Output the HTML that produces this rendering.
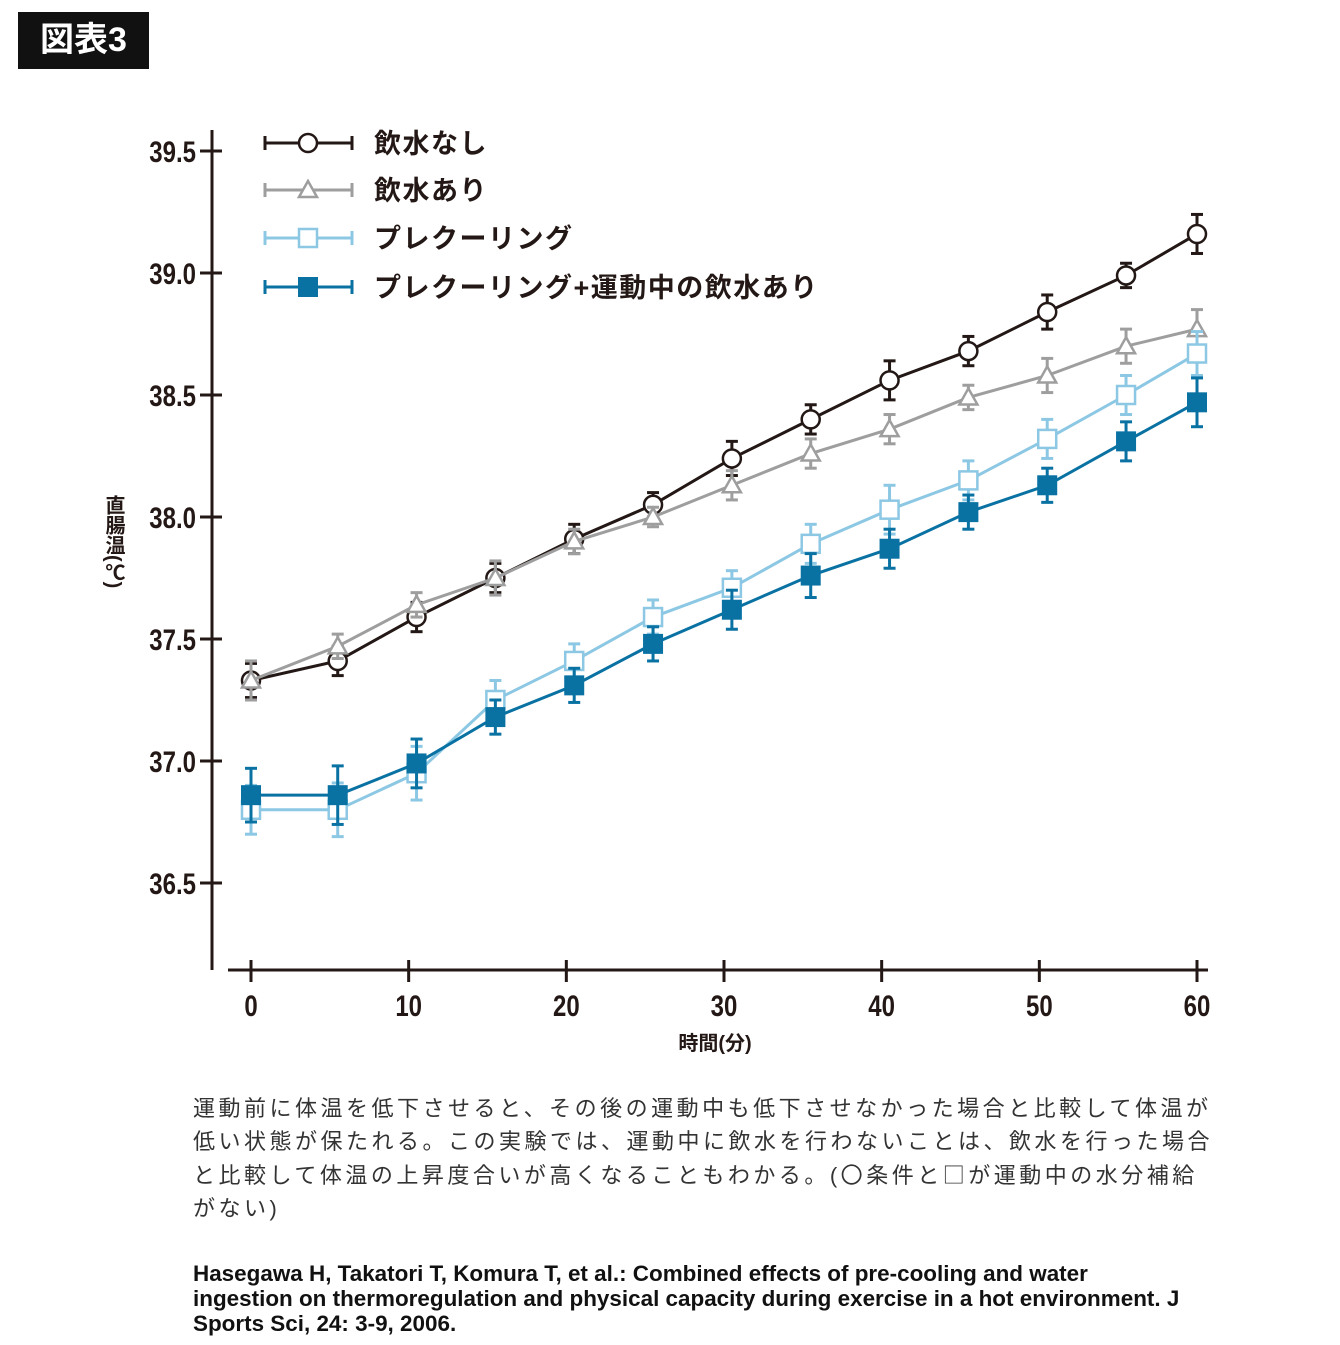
<!DOCTYPE html>
<html><head><meta charset="utf-8">
<style>
body{margin:0;background:#fff;width:1340px;height:1345px;overflow:hidden;font-family:"Liberation Sans","Noto Sans CJK JP",sans-serif;position:relative}
#title{position:absolute;left:18px;top:12px;width:131px;height:57px;background:#111;color:#fff;font-size:34px;font-weight:bold;line-height:57px;text-align:center}
#caption{position:absolute;left:193px;top:1092px;width:1060px;font-size:22px;line-height:33px;color:#333;letter-spacing:3.5px;white-space:nowrap}
#caption .g{font-family:"Noto Sans CJK JP",sans-serif;font-size:22px}
#ref{position:absolute;left:193px;top:1261px;width:1200px;font-size:22px;line-height:25px;color:#111;font-weight:bold;white-space:nowrap;transform:scaleX(1.02);transform-origin:0 0}
svg{position:absolute;left:0;top:0}
</style></head><body>
<div id="title">図表3</div>
<svg id="chart" width="1340" height="1345"></svg>
<div id="caption">運動前に体温を低下させると、その後の運動中も低下させなかった場合と比較して体温が<br>低い状態が保たれる。この実験では、運動中に飲水を行わないことは、飲水を行った場合<br>と比較して体温の上昇度合いが高くなることもわかる。(<span class="g">〇</span>条件と<span class="g">□</span>が運動中の水分補給<br>がない)</div>
<div id="ref">Hasegawa H, Takatori T, Komura T, et al.: Combined effects of pre-cooling and water<br>ingestion on thermoregulation and physical capacity during exercise in a hot environment. J<br>Sports Sci, 24: 3-9, 2006.</div>
<script>
const times=[0,5.5,10.5,15.5,20.5,25.5,30.5,35.5,40.5,45.5,50.5,55.5,60];
const noWater=[37.33,37.41,37.59,37.75,37.91,38.05,38.24,38.40,38.56,38.68,38.84,38.99,39.16];
const noWaterErr=[0.07,0.06,0.06,0.06,0.06,0.05,0.07,0.06,0.08,0.06,0.07,0.05,0.08];
const water=[37.33,37.47,37.64,37.75,37.90,38.00,38.13,38.26,38.36,38.49,38.58,38.70,38.77];
const waterErr=[0.08,0.05,0.05,0.07,0.05,0.04,0.06,0.06,0.06,0.05,0.07,0.07,0.08];
const precool=[36.80,36.80,36.95,37.25,37.41,37.59,37.71,37.89,38.03,38.15,38.32,38.50,38.67];
const precoolErr=[0.10,0.11,0.11,0.08,0.07,0.07,0.07,0.08,0.10,0.08,0.08,0.08,0.09];
const precoolWater=[36.86,36.86,36.99,37.18,37.31,37.48,37.62,37.76,37.87,38.02,38.13,38.31,38.47];
const precoolWaterErr=[0.11,0.12,0.10,0.07,0.07,0.07,0.08,0.09,0.08,0.07,0.07,0.08,0.10];
const yTicks=[36.5,37.0,37.5,38.0,38.5,39.0,39.5];
const xTicks=[0,10,20,30,40,50,60];
const legendLabels=["飲水なし","飲水あり","プレクーリング","プレクーリング+運動中の飲水あり"];

const NS="http://www.w3.org/2000/svg";
const svg=document.getElementById('chart');
const X=t=>251+t*(1197-251)/60;
const Y=v=>761-(v-37)*244;
function mk(tag,attrs,parent){const e=document.createElementNS(NS,tag);for(const k in attrs)e.setAttribute(k,attrs[k]);(parent||svg).appendChild(e);return e;}

let el;
el=mk('line',{x1:212,y1:130,x2:212,y2:970,stroke:'#231815','stroke-width':3});


el=mk('line',{x1:228,y1:970,x2:1208,y2:970,stroke:'#231815','stroke-width':3});


yTicks.forEach(v=>{
  mk('line',{x1:200,y1:Y(v),x2:222,y2:Y(v),stroke:'#231815','stroke-width':3});
  const t=mk('text',{x:196/0.8,y:Y(v)+11,'text-anchor':'end','font-size':30,'font-weight':'bold',fill:'#231815',transform:'scale(0.8,1)'});
  t.textContent=v.toFixed(1);
  
  
});
xTicks.forEach(v=>{
  mk('line',{x1:X(v),y1:960,x2:X(v),y2:982,stroke:'#231815','stroke-width':3});
  const t=mk('text',{x:X(v)/0.8,y:1016,'text-anchor':'middle','font-size':30,'font-weight':'bold',fill:'#231815',transform:'scale(0.8,1)'});
  t.textContent=v;
  
  
});
el=mk('text',{x:715,y:1050,'text-anchor':'middle','font-size':20,'font-weight':'bold',fill:'#231815'});
el.textContent='時間(分)';


el=mk('text',{x:113,y:495,'font-size':20,'font-weight':'bold',fill:'#231815','writing-mode':'tb','style':'writing-mode:vertical-rl;glyph-orientation-vertical:0'});
el.textContent='直腸温(℃)';



const series=[
 {v:noWater,e:noWaterErr,c:'#231815',m:'circle',n:'series-no-water'},
 {v:water,e:waterErr,c:'#9e9e9e',m:'triangle',n:'series-water'},
 {v:precool,e:precoolErr,c:'#8cc8e4',m:'square-open',n:'series-precooling'},
 {v:precoolWater,e:precoolWaterErr,c:'#0a72a3',m:'square',n:'series-precooling-water'}
];
function marker(g,m,x,y,c){
  if(m==='circle')return mk('circle',{cx:x,cy:y,r:9,fill:'#fff',stroke:c,'stroke-width':2.5},g);
  if(m==='triangle')return mk('polygon',{points:`${x},${y-9} ${x-9},${y+7} ${x+9},${y+7}`,fill:'#fff',stroke:c,'stroke-width':2.5},g);
  if(m==='square-open')return mk('rect',{x:x-9,y:y-9,width:18,height:18,fill:'#fff',stroke:c,'stroke-width':2.5},g);
  return mk('rect',{x:x-10,y:y-10,width:20,height:20,fill:c},g);
}
series.forEach(s=>{
  const g=mk('g',{});
  
  
  s.v.forEach((v,i)=>{
    const x=X(times[i]);
    mk('line',{x1:x,y1:Y(v+s.e[i]),x2:x,y2:Y(v-s.e[i]),stroke:s.c,'stroke-width':3},g);
    mk('line',{x1:x-6,y1:Y(v+s.e[i]),x2:x+6,y2:Y(v+s.e[i]),stroke:s.c,'stroke-width':3},g);
    mk('line',{x1:x-6,y1:Y(v-s.e[i]),x2:x+6,y2:Y(v-s.e[i]),stroke:s.c,'stroke-width':3},g);
  });
  mk('polyline',{points:s.v.map((v,i)=>X(times[i])+','+Y(v)).join(' '),fill:'none',stroke:s.c,'stroke-width':3},g);
  s.v.forEach((v,i)=>{const p=marker(g,s.m,X(times[i]),Y(v),s.c);
    
    });
});
const ly=[143,190,238,287];
series.forEach((s,i)=>{
  const g=mk('g',{});
  
  
  const y=ly[i];
  mk('line',{x1:265,y1:y,x2:352,y2:y,stroke:s.c,'stroke-width':3},g);
  mk('line',{x1:265,y1:y-7,x2:265,y2:y+7,stroke:s.c,'stroke-width':3},g);
  mk('line',{x1:352,y1:y-7,x2:352,y2:y+7,stroke:s.c,'stroke-width':3},g);
  marker(g,s.m,308,y,s.c);
  const t=mk('text',{x:374,y:y+10,'font-size':27,'font-weight':'bold',fill:'#231815','letter-spacing':1.5},g);
  t.textContent=legendLabels[i];
});
</script>
</body></html>
